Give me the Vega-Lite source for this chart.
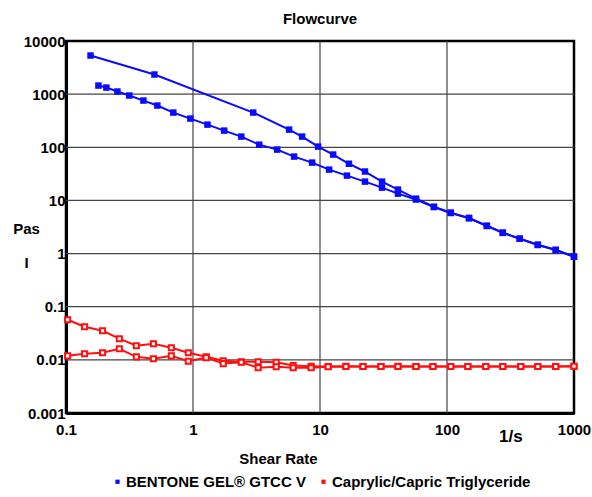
{
  "$schema": "https://vega.github.io/schema/vega-lite/v6.json",
  "width": 508,
  "height": 372,
  "autosize": {"type": "none"},
  "padding": {"left": 66, "top": 41, "right": 18, "bottom": 84},
  "background": "white",
  "title": {"text": "Flowcurve", "fontSize": 15, "font": "Liberation Sans", "fontWeight": "bold", "anchor": "middle", "offset": 7, "color": "black"},
  "config": {
    "view": {"stroke": "black", "strokeWidth": 2.5},
    "axis": {
      "labelFont": "Liberation Sans",
      "labelFontSize": 15, "labelFontWeight": "bold", "labelColor": "black",
      "titleFont": "Liberation Sans",
      "titleFontSize": 15, "titleFontWeight": "bold", "titleColor": "black",
      "domainColor": "black", "domainWidth": 3,
      "ticks": false, "grid": false
    },
    "legend": {
      "labelFont": "Liberation Sans",
      "labelFontSize": 15, "labelFontWeight": "bold", "labelColor": "black", "labelLimit": 0,
      "layout": {"bottom": {"anchor": "middle"}}
    }
  },
  "datasets": {
    "curves": [
      {"material": "BENTONE GEL® GTCC V", "sweep": "up", "rate": 0.156, "visc": 5330},
      {"material": "BENTONE GEL® GTCC V", "sweep": "up", "rate": 0.497, "visc": 2340},
      {"material": "BENTONE GEL® GTCC V", "sweep": "up", "rate": 2.98, "visc": 450},
      {"material": "BENTONE GEL® GTCC V", "sweep": "up", "rate": 5.71, "visc": 215},
      {"material": "BENTONE GEL® GTCC V", "sweep": "up", "rate": 7.23, "visc": 159},
      {"material": "BENTONE GEL® GTCC V", "sweep": "up", "rate": 9.66, "visc": 103},
      {"material": "BENTONE GEL® GTCC V", "sweep": "up", "rate": 12.7, "visc": 73},
      {"material": "BENTONE GEL® GTCC V", "sweep": "up", "rate": 16.9, "visc": 49},
      {"material": "BENTONE GEL® GTCC V", "sweep": "up", "rate": 22.6, "visc": 35},
      {"material": "BENTONE GEL® GTCC V", "sweep": "up", "rate": 30.8, "visc": 22.6},
      {"material": "BENTONE GEL® GTCC V", "sweep": "up", "rate": 41.1, "visc": 16},
      {"material": "BENTONE GEL® GTCC V", "sweep": "up", "rate": 57.0, "visc": 10.8},
      {"material": "BENTONE GEL® GTCC V", "sweep": "up", "rate": 78.9, "visc": 7.6},
      {"material": "BENTONE GEL® GTCC V", "sweep": "up", "rate": 107, "visc": 5.9},
      {"material": "BENTONE GEL® GTCC V", "sweep": "up", "rate": 149, "visc": 4.7},
      {"material": "BENTONE GEL® GTCC V", "sweep": "up", "rate": 206, "visc": 3.35},
      {"material": "BENTONE GEL® GTCC V", "sweep": "up", "rate": 275, "visc": 2.48},
      {"material": "BENTONE GEL® GTCC V", "sweep": "up", "rate": 374, "visc": 1.91},
      {"material": "BENTONE GEL® GTCC V", "sweep": "up", "rate": 519, "visc": 1.47},
      {"material": "BENTONE GEL® GTCC V", "sweep": "up", "rate": 718, "visc": 1.18},
      {"material": "BENTONE GEL® GTCC V", "sweep": "up", "rate": 1000, "visc": 0.875},
      {"material": "BENTONE GEL® GTCC V", "sweep": "down", "rate": 0.180, "visc": 1450},
      {"material": "BENTONE GEL® GTCC V", "sweep": "down", "rate": 0.208, "visc": 1330},
      {"material": "BENTONE GEL® GTCC V", "sweep": "down", "rate": 0.254, "visc": 1120},
      {"material": "BENTONE GEL® GTCC V", "sweep": "down", "rate": 0.315, "visc": 942},
      {"material": "BENTONE GEL® GTCC V", "sweep": "down", "rate": 0.407, "visc": 757},
      {"material": "BENTONE GEL® GTCC V", "sweep": "down", "rate": 0.524, "visc": 610},
      {"material": "BENTONE GEL® GTCC V", "sweep": "down", "rate": 0.700, "visc": 450},
      {"material": "BENTONE GEL® GTCC V", "sweep": "down", "rate": 0.953, "visc": 347},
      {"material": "BENTONE GEL® GTCC V", "sweep": "down", "rate": 1.30, "visc": 267},
      {"material": "BENTONE GEL® GTCC V", "sweep": "down", "rate": 1.76, "visc": 206},
      {"material": "BENTONE GEL® GTCC V", "sweep": "down", "rate": 2.40, "visc": 159},
      {"material": "BENTONE GEL® GTCC V", "sweep": "down", "rate": 3.32, "visc": 112},
      {"material": "BENTONE GEL® GTCC V", "sweep": "down", "rate": 4.60, "visc": 90.5},
      {"material": "BENTONE GEL® GTCC V", "sweep": "down", "rate": 6.25, "visc": 66.8},
      {"material": "BENTONE GEL® GTCC V", "sweep": "down", "rate": 8.67, "visc": 51.5},
      {"material": "BENTONE GEL® GTCC V", "sweep": "down", "rate": 11.8, "visc": 38},
      {"material": "BENTONE GEL® GTCC V", "sweep": "down", "rate": 16.3, "visc": 29.3},
      {"material": "BENTONE GEL® GTCC V", "sweep": "down", "rate": 22.6, "visc": 22.6},
      {"material": "BENTONE GEL® GTCC V", "sweep": "down", "rate": 30.8, "visc": 17.4},
      {"material": "BENTONE GEL® GTCC V", "sweep": "down", "rate": 41.1, "visc": 13.4},
      {"material": "BENTONE GEL® GTCC V", "sweep": "down", "rate": 57.0, "visc": 10.4},
      {"material": "BENTONE GEL® GTCC V", "sweep": "down", "rate": 78.9, "visc": 7.5},
      {"material": "BENTONE GEL® GTCC V", "sweep": "down", "rate": 107, "visc": 5.8},
      {"material": "BENTONE GEL® GTCC V", "sweep": "down", "rate": 149, "visc": 4.6},
      {"material": "BENTONE GEL® GTCC V", "sweep": "down", "rate": 206, "visc": 3.3},
      {"material": "BENTONE GEL® GTCC V", "sweep": "down", "rate": 275, "visc": 2.45},
      {"material": "BENTONE GEL® GTCC V", "sweep": "down", "rate": 374, "visc": 1.9},
      {"material": "BENTONE GEL® GTCC V", "sweep": "down", "rate": 519, "visc": 1.45},
      {"material": "BENTONE GEL® GTCC V", "sweep": "down", "rate": 718, "visc": 1.16},
      {"material": "BENTONE GEL® GTCC V", "sweep": "down", "rate": 1000, "visc": 0.87},

      {"material": "Caprylic/Capric Triglyceride", "sweep": "up", "rate": 0.103, "visc": 0.0569},
      {"material": "Caprylic/Capric Triglyceride", "sweep": "up", "rate": 0.140, "visc": 0.042},
      {"material": "Caprylic/Capric Triglyceride", "sweep": "up", "rate": 0.194, "visc": 0.0353},
      {"material": "Caprylic/Capric Triglyceride", "sweep": "up", "rate": 0.263, "visc": 0.025},
      {"material": "Caprylic/Capric Triglyceride", "sweep": "up", "rate": 0.358, "visc": 0.0184},
      {"material": "Caprylic/Capric Triglyceride", "sweep": "up", "rate": 0.488, "visc": 0.0201},
      {"material": "Caprylic/Capric Triglyceride", "sweep": "up", "rate": 0.675, "visc": 0.0169},
      {"material": "Caprylic/Capric Triglyceride", "sweep": "up", "rate": 0.918, "visc": 0.0136},
      {"material": "Caprylic/Capric Triglyceride", "sweep": "up", "rate": 1.27, "visc": 0.0114},
      {"material": "Caprylic/Capric Triglyceride", "sweep": "up", "rate": 1.73, "visc": 0.0096},
      {"material": "Caprylic/Capric Triglyceride", "sweep": "up", "rate": 2.40, "visc": 0.0092},
      {"material": "Caprylic/Capric Triglyceride", "sweep": "up", "rate": 3.26, "visc": 0.0092},
      {"material": "Caprylic/Capric Triglyceride", "sweep": "up", "rate": 4.52, "visc": 0.0090},
      {"material": "Caprylic/Capric Triglyceride", "sweep": "up", "rate": 6.15, "visc": 0.0078},
      {"material": "Caprylic/Capric Triglyceride", "sweep": "up", "rate": 8.51, "visc": 0.0076},
      {"material": "Caprylic/Capric Triglyceride", "sweep": "up", "rate": 11.6, "visc": 0.0075},
      {"material": "Caprylic/Capric Triglyceride", "sweep": "up", "rate": 16.0, "visc": 0.0076},
      {"material": "Caprylic/Capric Triglyceride", "sweep": "up", "rate": 21.8, "visc": 0.0075},
      {"material": "Caprylic/Capric Triglyceride", "sweep": "up", "rate": 30.2, "visc": 0.0075},
      {"material": "Caprylic/Capric Triglyceride", "sweep": "up", "rate": 41.1, "visc": 0.0076},
      {"material": "Caprylic/Capric Triglyceride", "sweep": "up", "rate": 57.0, "visc": 0.0075},
      {"material": "Caprylic/Capric Triglyceride", "sweep": "up", "rate": 77.5, "visc": 0.0075},
      {"material": "Caprylic/Capric Triglyceride", "sweep": "up", "rate": 107, "visc": 0.0075},
      {"material": "Caprylic/Capric Triglyceride", "sweep": "up", "rate": 146, "visc": 0.0075},
      {"material": "Caprylic/Capric Triglyceride", "sweep": "up", "rate": 202, "visc": 0.0075},
      {"material": "Caprylic/Capric Triglyceride", "sweep": "up", "rate": 275, "visc": 0.0075},
      {"material": "Caprylic/Capric Triglyceride", "sweep": "up", "rate": 381, "visc": 0.0075},
      {"material": "Caprylic/Capric Triglyceride", "sweep": "up", "rate": 519, "visc": 0.0075},
      {"material": "Caprylic/Capric Triglyceride", "sweep": "up", "rate": 718, "visc": 0.0075},
      {"material": "Caprylic/Capric Triglyceride", "sweep": "up", "rate": 1000, "visc": 0.0076},
      {"material": "Caprylic/Capric Triglyceride", "sweep": "down", "rate": 0.103, "visc": 0.0119},
      {"material": "Caprylic/Capric Triglyceride", "sweep": "down", "rate": 0.140, "visc": 0.0130},
      {"material": "Caprylic/Capric Triglyceride", "sweep": "down", "rate": 0.194, "visc": 0.0136},
      {"material": "Caprylic/Capric Triglyceride", "sweep": "down", "rate": 0.263, "visc": 0.0162},
      {"material": "Caprylic/Capric Triglyceride", "sweep": "down", "rate": 0.358, "visc": 0.0114},
      {"material": "Caprylic/Capric Triglyceride", "sweep": "down", "rate": 0.488, "visc": 0.0105},
      {"material": "Caprylic/Capric Triglyceride", "sweep": "down", "rate": 0.675, "visc": 0.0119},
      {"material": "Caprylic/Capric Triglyceride", "sweep": "down", "rate": 0.918, "visc": 0.0094},
      {"material": "Caprylic/Capric Triglyceride", "sweep": "down", "rate": 1.27, "visc": 0.0110},
      {"material": "Caprylic/Capric Triglyceride", "sweep": "down", "rate": 1.73, "visc": 0.0085},
      {"material": "Caprylic/Capric Triglyceride", "sweep": "down", "rate": 2.40, "visc": 0.0090},
      {"material": "Caprylic/Capric Triglyceride", "sweep": "down", "rate": 3.26, "visc": 0.0071},
      {"material": "Caprylic/Capric Triglyceride", "sweep": "down", "rate": 4.52, "visc": 0.0074},
      {"material": "Caprylic/Capric Triglyceride", "sweep": "down", "rate": 6.15, "visc": 0.0071},
      {"material": "Caprylic/Capric Triglyceride", "sweep": "down", "rate": 8.51, "visc": 0.0071},
      {"material": "Caprylic/Capric Triglyceride", "sweep": "down", "rate": 11.6, "visc": 0.0074},
      {"material": "Caprylic/Capric Triglyceride", "sweep": "down", "rate": 16.0, "visc": 0.0075},
      {"material": "Caprylic/Capric Triglyceride", "sweep": "down", "rate": 21.8, "visc": 0.0075},
      {"material": "Caprylic/Capric Triglyceride", "sweep": "down", "rate": 30.2, "visc": 0.0075},
      {"material": "Caprylic/Capric Triglyceride", "sweep": "down", "rate": 41.1, "visc": 0.0075},
      {"material": "Caprylic/Capric Triglyceride", "sweep": "down", "rate": 57.0, "visc": 0.0075},
      {"material": "Caprylic/Capric Triglyceride", "sweep": "down", "rate": 77.5, "visc": 0.0075},
      {"material": "Caprylic/Capric Triglyceride", "sweep": "down", "rate": 107, "visc": 0.0075},
      {"material": "Caprylic/Capric Triglyceride", "sweep": "down", "rate": 146, "visc": 0.0075},
      {"material": "Caprylic/Capric Triglyceride", "sweep": "down", "rate": 202, "visc": 0.0075},
      {"material": "Caprylic/Capric Triglyceride", "sweep": "down", "rate": 275, "visc": 0.0075},
      {"material": "Caprylic/Capric Triglyceride", "sweep": "down", "rate": 381, "visc": 0.0075},
      {"material": "Caprylic/Capric Triglyceride", "sweep": "down", "rate": 519, "visc": 0.0075},
      {"material": "Caprylic/Capric Triglyceride", "sweep": "down", "rate": 718, "visc": 0.0075},
      {"material": "Caprylic/Capric Triglyceride", "sweep": "down", "rate": 1000, "visc": 0.0076}
    ],
    "gridx": [{"rate": 1}, {"rate": 10}, {"rate": 100}],
    "gridy": [{"visc": 0.01}, {"visc": 0.1}, {"visc": 1}, {"visc": 10}, {"visc": 100}, {"visc": 1000}],
    "unit": [{"label": "1/s", "rate": 318, "visc": 0.001}]
  },
  "layer": [
    {
      "data": {"name": "gridx"},
      "mark": {"type": "rule", "color": "#444444", "strokeWidth": 1.2},
      "encoding": {
        "x": {"field": "rate", "type": "quantitative",
          "scale": {"type": "log", "domain": [0.1, 1000], "nice": false},
          "axis": {"values": [0.1, 1, 10, 100, 1000], "format": "~g", "labelPadding": 9, "labelFlush": false,
            "title": "Shear Rate", "titleX": 212, "titleY": 38, "titleAnchor": "middle"}}
      }
    },
    {
      "data": {"name": "gridy"},
      "mark": {"type": "rule", "color": "#444444", "strokeWidth": 1.2},
      "encoding": {
        "y": {"field": "visc", "type": "quantitative",
          "scale": {"type": "log", "domain": [0.001, 10000], "nice": false},
          "axis": {"values": [0.001, 0.01, 0.1, 1, 10, 100, 1000, 10000], "format": "~g", "labelPadding": 1,
            "title": ["Pas", "I"], "titleAngle": 0, "titleX": -40, "titleY": 180, "titleAlign": "center", "titleBaseline": "top", "titleLineHeight": 34}}
      }
    },
    {
      "data": {"name": "curves"},
      "mark": {"type": "line", "strokeWidth": 2},
      "encoding": {
        "x": {"field": "rate", "type": "quantitative"},
        "y": {"field": "visc", "type": "quantitative"},
        "color": {"field": "material", "type": "nominal",
          "scale": {"domain": ["BENTONE GEL® GTCC V", "Caprylic/Capric Triglyceride"], "range": ["#0a0aff", "#ff1010"]},
          "legend": {"title": null, "orient": "bottom", "direction": "horizontal", "offset": 8,
            "symbolType": "square", "symbolSize": 18, "symbolStrokeWidth": 0, "labelOffset": 1, "columnPadding": 10,
            "encode": {"symbols": {"update": {"fill": {"scale": "color", "field": "value"}, "strokeWidth": {"value": 0}, "opacity": {"value": 1}}}}}},
        "detail": {"field": "sweep"}
      }
    },
    {
      "data": {"name": "curves"},
      "transform": [{"filter": "datum.material === 'BENTONE GEL® GTCC V'"}],
      "mark": {"type": "point", "shape": "square", "filled": true, "size": 42, "opacity": 1},
      "encoding": {
        "x": {"field": "rate", "type": "quantitative"},
        "y": {"field": "visc", "type": "quantitative"},
        "color": {"field": "material", "type": "nominal"}
      }
    },
    {
      "data": {"name": "curves"},
      "transform": [{"filter": "datum.material !== 'BENTONE GEL® GTCC V'"}],
      "mark": {"type": "point", "shape": "square", "filled": false, "fill": "white", "size": 26, "strokeWidth": 2, "opacity": 1},
      "encoding": {
        "x": {"field": "rate", "type": "quantitative"},
        "y": {"field": "visc", "type": "quantitative"},
        "color": {"field": "material", "type": "nominal"}
      }
    },
    {
      "data": {"name": "unit"},
      "mark": {"type": "text", "font": "Liberation Sans", "fontSize": 17, "fontWeight": "bold", "dy": 24, "color": "black"},
      "encoding": {
        "x": {"field": "rate", "type": "quantitative"},
        "y": {"field": "visc", "type": "quantitative"},
        "text": {"field": "label"}
      }
    }
  ]
}
